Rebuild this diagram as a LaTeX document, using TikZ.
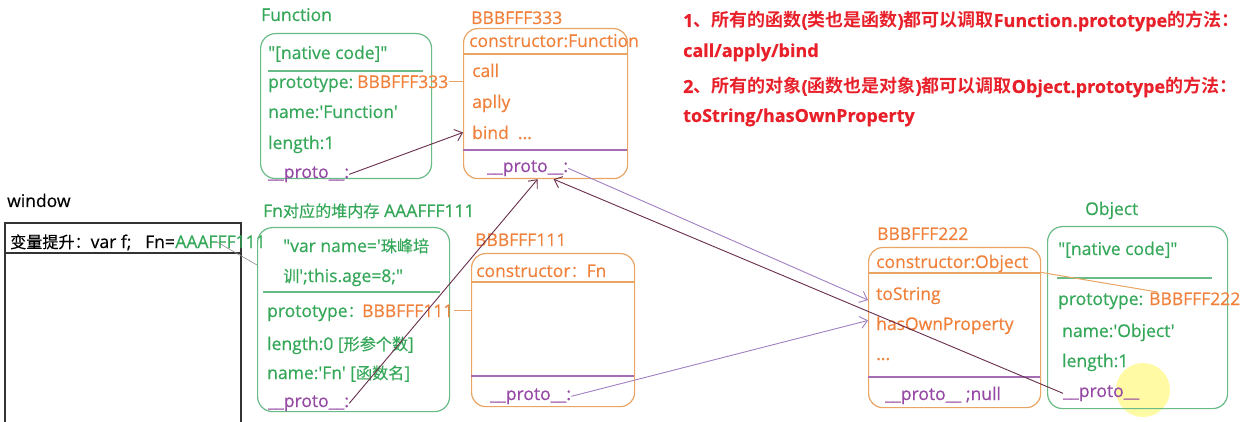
\documentclass[tikz,border=0pt]{standalone}
\usepackage{fontspec}
\usetikzlibrary{arrows.meta}
\setmainfont{Open Sans}[Ligatures=TeXOff, FakeBold=0.4]
\newfontfamily\cjk{Noto Sans CJK SC}[Scale=0.92, FakeBold=0.3, BoldFont={Noto Sans CJK SC Bold}]
\newfontfamily\cjkr{Noto Sans CJK SC}[BoldFont={Noto Sans CJK SC Bold}]
\newcommand{\C}[1]{{\cjk #1}}
\newcommand{\R}[1]{{\cjkr #1}}
\newcommand{\fs}{\fontsize{17.5}{21}\selectfont}
\definecolor{tgreen}{RGB}{52,168,88}
\definecolor{bgreen}{RGB}{105,188,135}
\definecolor{torange}{RGB}{240,128,58}
\definecolor{borange}{RGB}{232,165,100}
\definecolor{tpurple}{RGB}{150,72,165}
\definecolor{dpurple}{RGB}{165,110,180}
\definecolor{apurple}{RGB}{160,128,195}
\definecolor{adark}{RGB}{105,45,75}
\definecolor{tred}{RGB}{232,32,42}
\tikzset{
  lbl/.style={anchor=base west, inner sep=0pt, font=\fs},
  gt/.style={lbl, text=tgreen},
  ot/.style={lbl, text=torange},
  pt/.style={lbl, text=tpurple},
  kt/.style={lbl, text=black},
  rt/.style={lbl, text=tred, font=\fontsize{18}{21}\selectfont\bfseries},
  gbox/.style={draw=bgreen, line width=1.2pt, rounded corners=15pt, anchor=north west, inner sep=0pt},
  obox/.style={draw=borange, line width=1.2pt, rounded corners=14pt, anchor=north west, inner sep=0pt},
  gdiv/.style={draw=bgreen, line width=1.1pt},
  odiv/.style={draw=borange, line width=1.1pt},
  pdiv/.style={draw=dpurple, line width=1.1pt},
  oline/.style={draw=borange, line width=1pt},
  gline/.style={draw=black!45, line width=0.6pt},
  parr/.style={draw=apurple, line width=0.9pt, -{Straight Barb[length=7pt,width=12pt]}},
  darr/.style={draw=adark, line width=0.9pt, -{Straight Barb[length=7pt,width=12pt]}},
}
\begin{document}
\begin{tikzpicture}[x=1pt,y=-1pt]
\useasboundingbox[fill=white] (0,0) rectangle (1245,422);

% cursor highlight
\fill[yellow!45!white, opacity=0.8] (1143,390) circle (27);

% ---------- Function ----------
\node[gt] (funclbl) at (261,21) {Function};
\node[gbox, minimum width=171pt, minimum height=145pt] (funcbox) at (260,33) {};
\node[gt] (fnative) at (268,59) {"[native code]"};
\draw[gdiv] (268,71) -- (423,71);
\node[gt] (fproto) at (268,88) {prototype:};
\node[ot] (fprotoval) at (357,88) {BBBFFF333};
\node[gt] (fname) at (268,118) {name:'Function'};
\node[gt] (flen) at (268,149) {length:1};
\node[pt] (fpr) at (268,178) {\_\_proto\_\_:};

% ---------- BBBFFF333 ----------
\node[ot] (b3lbl) at (471,24) {BBBFFF333};
\node[obox, minimum width=164pt, minimum height=150pt] (b3box) at (463,28) {};
\node[ot] (b3ctor) at (469,47) {constructor:Function};
\draw[odiv] (463,54) -- (627,54);
\node[ot] (b3call) at (472,77) {call};
\node[ot] (b3apply) at (472,108) {aplly};
\node[ot] (b3bind) at (472,139) {bind\ \ ...};
\draw[pdiv] (463,150) -- (627,150);
\node[pt] (b3pr) at (487,172) {\_\_proto\_\_:};

% ---------- window ----------
\node[kt] (winlbl) at (7,207) {window};
\coordinate (wbl) at (5,430);
\coordinate (wtl) at (5,223);
\coordinate (wtr) at (241,223);
\coordinate (wbr) at (241,430);
\draw[black!80, line width=1.1pt] (wbl) -- (wtl) -- (wtr) -- (wbr);
\draw[black!80, line width=1.1pt] (5,253) -- (241,253);
\node[kt] (wintext) at (10,248) {\C{变量提升：}var f;\ \ \ Fn=};
\node[gt, anchor=base west] (winval) at (wintext.base east) {AAAFFF111};

% ---------- Fn ----------
\node[gt] (fnlbl) at (263,217) {Fn\C{对应的堆内存} AAAFFF111};
\node[gbox, minimum width=192pt, minimum height=184pt] (fnbox) at (257,227) {};
\coordinate (fnin) at (257,265);
\node[gt] (fncode1) at (283,252) {"var name='\C{珠峰培}};
\node[gt] (fncode2) at (283,282) {\C{训}';this.age=8;"};
\draw[gdiv] (263,292) -- (440,292);
\node[gt] (fnproto) at (267,317) {prototype\C{：}};
\node[ot] (fnprotoval) at (362,317) {BBBFFF111};
\node[gt] (fnlen) at (267,350) {length:0 [\C{形参个数}]};
\node[gt] (fnname) at (267,379) {name:'Fn' [\C{函数名}]};
\node[pt] (fnpr) at (268,407) {\_\_proto\_\_:};

% ---------- BBBFFF111 ----------
\node[ot] (b1lbl) at (475,246) {BBBFFF111};
\node[obox, minimum width=163pt, minimum height=153pt] (b1box) at (471,253) {};
\node[ot] (b1ctor) at (476,277) {constructor\C{：}Fn};
\draw[odiv] (471,282) -- (634,282);
\draw[pdiv] (471,376) -- (634,376);
\node[pt] (b1pr) at (490,400) {\_\_proto\_\_:};

% ---------- BBBFFF222 ----------
\node[ot] (b2lbl) at (877,240) {BBBFFF222};
\node[obox, minimum width=172pt, minimum height=160pt] (b2box) at (868,247) {};
\node[ot] (b2ctor) at (876,268) {constructor:Object};
\draw[odiv] (868,273) -- (1040,273);
\node[ot] (b2tostr) at (876,300) {toString};
\node[ot] (b2has) at (876,330) {hasOwnProperty};
\node[ot] (b2dots) at (876,360) {...};
\draw[pdiv] (868,377) -- (1040,377);
\node[pt] (b2pr) at (885,400) {\_\_proto\_\_ ;null};

% ---------- Object ----------
\node[gt] (objlbl) at (1085,215) {Object};
\node[gbox, minimum width=180pt, minimum height=182pt] (objbox) at (1047,226) {};
\node[gt] (onative) at (1058,255) {"[native code]"};
\draw[gdiv] (1057,278) -- (1212,278);
\node[gt] (oproto) at (1058,305) {prototype:};
\node[ot] (oprotoval) at (1149,305) {BBBFFF222};
\node[gt] (oname) at (1062,337) {name:'Object'};
\node[gt] (olen) at (1062,367) {length:1};
\node[pt] (opr) at (1063,397) {\_\_proto\_\_};

% ---------- notes ----------
\node[rt] (note1) at (683,27) {1\R{、所有的函数}(\R{类也是函数})\R{都可以调取}Function.prototype\R{的方法：}};
\node[rt] (note2) at (683,57) {call/apply/bind};
\node[rt] (note3) at (683,93) {2\R{、所有的对象}(\R{函数也是对象})\R{都可以调取}Object.prototype\R{的方法：}};
\node[rt] (note4) at (683,122) {toString/hasOwnProperty};

% ---------- connectors ----------
\draw[oline] (fprotoval.east) -- (b3box.west |- fprotoval.east);
\draw[oline] (fnprotoval.east) -- (b1box.west |- fnprotoval.east);
\draw[oline] (b2box.east |- b2ctor.south) -- ([xshift=9pt]oprotoval.north west);
\draw[gline] ([xshift=-4pt]winval.center) -- (fnin);
\draw[darr] (fpr.east) -- (b3box.west |- b3bind.west);
\draw[darr] (fnpr.east) -- ([xshift=-8pt]b3box.south);
\draw[darr] (opr.west) -- ([xshift=8pt]b3box.south);
\draw[parr] (b3pr.east) -- (b2box.west |- b2tostr.base);
\draw[parr] (b1pr.east) -- ([yshift=5pt]b2box.west |- b2has.west);
\end{tikzpicture}
\end{document}
